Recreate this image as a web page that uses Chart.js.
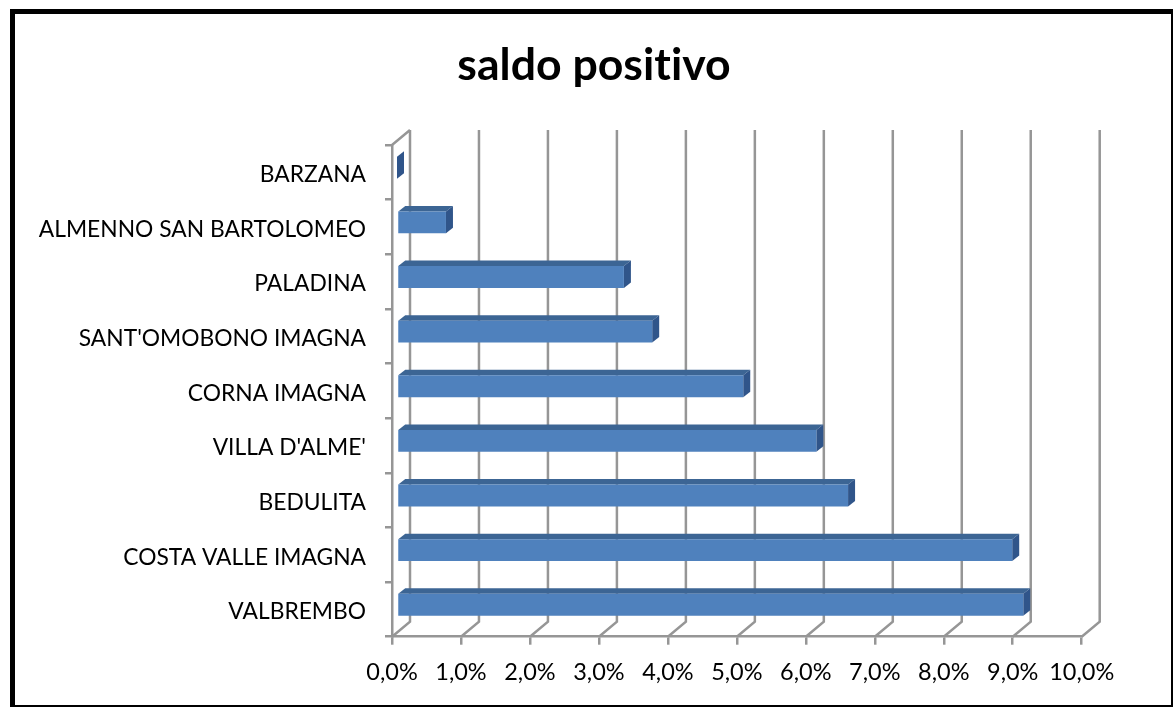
<!DOCTYPE html>
<html>
<head>
<meta charset="utf-8">
<title>saldo positivo</title>
<script src="https://cdn.jsdelivr.net/npm/chart.js@4/dist/chart.umd.min.js"></script>
<style>
  html, body { margin: 0; padding: 0; background: #fff; overflow: hidden; }
  #wrap { position: relative; width: 1173px; height: 707px; }
  #frame { position: absolute; left: 10px; top: 9px; right: 0; bottom: 0;
           border: solid #000; border-width: 5px 2px 2px 5px; }
  canvas { position: absolute; left: 0; top: 0; }
</style>
</head>
<body>
<div id="wrap">
  <div id="frame"></div>
  <canvas id="chart" width="1173" height="707"></canvas>
</div>
<script>
// dati
const categories = ['BARZANA', 'ALMENNO SAN BARTOLOMEO', 'PALADINA', "SANT'OMOBONO IMAGNA",
  'CORNA IMAGNA', "VILLA D'ALME'", 'BEDULITA', 'COSTA VALLE IMAGNA', 'VALBREMBO'];
const saldo = [0.0, 0.71, 3.29, 3.70, 5.02, 6.08, 6.54, 8.92, 9.08];
const xTicks = ['0,0%', '1,0%', '2,0%', '3,0%', '4,0%', '5,0%', '6,0%', '7,0%', '8,0%', '9,0%', '10,0%'];

const FONT = 'Lato, Carlito, sans-serif';
const GRID = '#969696';
// profondita' del finto 3D: parete di fondo e piano delle barre
const WALL = { dx: 18, dy: -15 };
const BAR_PLANE = { dx: 5, dy: -4.6 };
const BAR_DEPTH = { dx: 7, dy: -5.5 };

function poly(ctx, pts, fill) {
  ctx.beginPath();
  pts.forEach((p, i) => i ? ctx.lineTo(p[0], p[1]) : ctx.moveTo(p[0], p[1]));
  ctx.closePath();
  ctx.fillStyle = fill;
  ctx.fill();
}

const walls3d = {
  id: 'walls3d',
  beforeUpdate(chart) {
    // niente legatura "ti" nel titolo
    chart.ctx.textRendering = 'optimizeSpeed';
  },
  beforeDatasetsDraw(chart) {
    const { ctx, scales: { x, y } } = chart;
    const top = y.top, bottom = y.bottom, left = x.left;
    ctx.save();
    ctx.strokeStyle = GRID;
    ctx.lineWidth = 2.5;
    ctx.beginPath();
    // diagonali del pavimento e verticali di fondo
    x.ticks.forEach(t => {
      const px = x.getPixelForValue(t.value);
      ctx.moveTo(px, bottom);
      ctx.lineTo(px + WALL.dx, bottom + WALL.dy);
      ctx.lineTo(px + WALL.dx, top + WALL.dy);
    });
    // parete sinistra in alto
    ctx.moveTo(left, top);
    ctx.lineTo(left + WALL.dx, top + WALL.dy);
    ctx.stroke();
    ctx.restore();
  },
  beforeDatasetDraw(chart, args) {
    const { ctx } = chart;
    ctx.save();
    ctx.translate(BAR_PLANE.dx, BAR_PLANE.dy);
    const d = BAR_DEPTH;
    args.meta.data.forEach(bar => {
      const t = bar.y - bar.height / 2, b = bar.y + bar.height / 2;
      poly(ctx, [[bar.base, t], [bar.base + d.dx, t + d.dy], [bar.x + d.dx, t + d.dy], [bar.x, t]], '#3c6594');
      poly(ctx, [[bar.x, t], [bar.x + d.dx, t + d.dy], [bar.x + d.dx, b + d.dy], [bar.x, b]], '#30558a');
    });
  },
  afterDatasetDraw(chart) {
    chart.ctx.restore();
  }
};

new Chart(document.getElementById('chart'), {
  type: 'bar',
  data: {
    labels: categories,
    datasets: [{
      data: saldo,
      backgroundColor: '#4f81bd',
      borderWidth: 0,
      categoryPercentage: 1,
      barPercentage: 0.4
    }]
  },
  options: {
    indexAxis: 'y',
    responsive: false,
    animation: false,
    layout: { padding: { left: 15, top: 0, right: 0, bottom: 0 } },
    plugins: {
      legend: { display: false },
      tooltip: { enabled: false },
      title: {
        display: true,
        text: 'saldo positivo',
        color: '#000',
        font: { family: FONT, size: 44.6, weight: 'bold', lineHeight: 1.2 },
        padding: { top: 39, bottom: 52.5 }
      }
    },
    scales: {
      x: {
        min: 0,
        max: 10,
        ticks: {
          stepSize: 1,
          color: '#000',
          font: { family: FONT, size: 23.5 },
          padding: 14,
          maxRotation: 0,
          autoSkip: false,
          callback: (v, i) => xTicks[i]
        },
        grid: { drawOnChartArea: false, color: GRID, lineWidth: 2.5, tickLength: 8 },
        border: { color: GRID, width: 2.5 },
        afterFit(scale) {
          scale.height = 70.3;
          scale.paddingRight = 91.3;
        }
      },
      y: {
        ticks: {
          color: '#000',
          font: { family: FONT, size: 22.8 },
          padding: 19,
          autoSkip: false
        },
        grid: { drawOnChartArea: false, color: GRID, lineWidth: 2.5, tickLength: 7 },
        border: { color: GRID, width: 2.5 },
        afterFit(scale) {
          scale.width = 377;
          // etichette un po' piu' in basso rispetto alle tacche
          if (!scale.labelsShifted) {
            const drawLabels = scale.drawLabels;
            scale.drawLabels = function (area) {
              this.ctx.save();
              this.ctx.translate(0, 2.5);
              drawLabels.call(this, area);
              this.ctx.restore();
            };
            scale.labelsShifted = true;
          }
        }
      }
    }
  },
  plugins: [walls3d]
});
</script>
</body>
</html>
